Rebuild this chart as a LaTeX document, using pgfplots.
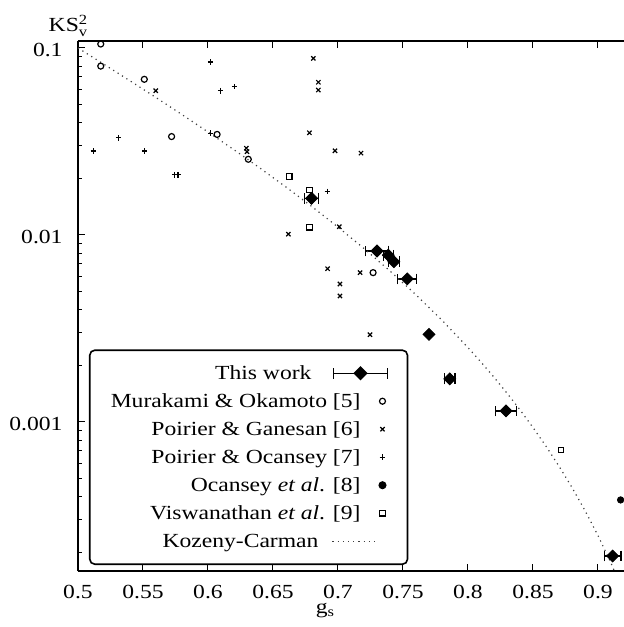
\documentclass[border=0pt]{standalone}
\usepackage{fontspec}
\setmainfont{Liberation Serif}[FakeStretch=1.18]
\usepackage{pgfplots}
\pgfplotsset{compat=1.18}
\usetikzlibrary{arrows.meta}
\newcommand{\chartfont}{\fontsize{10}{12}\selectfont}
\pgfplotsset{
  ptlegend/.style={legend image code/.code={%
    \path[draw=none,fill=none] (0pt,-3pt) rectangle (13pt,3pt);
    \draw[sharp corners,##1] plot coordinates {(9pt,0pt)};}},
  errlegend/.style={legend image code/.code={%
    \path[draw=none,fill=none] (0pt,-3pt) rectangle (13pt,3pt);
    \draw[overlay,sharp corners,line width=0.6pt] (-15.5pt,0pt) -- (11.5pt,0pt);
    \draw[overlay,sharp corners,line width=0.6pt] (-15.5pt,-2.7pt) -- (-15.5pt,2.7pt);
    \draw[overlay,sharp corners,line width=0.6pt] (11.5pt,-2.7pt) -- (11.5pt,2.7pt);
    \fill[overlay,sharp corners] plot[mark=square*, mark size=2.1pt, mark options={rotate=45,fill=black}] coordinates {(-2pt,0pt)};}},
  linelegend/.style={legend image code/.code={%
    \path[draw=none,fill=none] (0pt,-3pt) rectangle (13pt,3pt);
    \draw[overlay,sharp corners,##1] (-16pt,0pt) -- (6.5pt,0pt);}},
}
\pgfplotstableread{
x y ex
0.6797 0.0157 0.0058
0.7300 0.00821 0.0095
0.7387 0.00780 0.0043
0.7430 0.00720 0.0046
0.7533 0.00582 0.0077
0.7860 0.00170 0.0045
0.8292 0.001146 0.0087
0.9113 0.000192 0.0068
}\thiswork
\pgfplotstableread{
x y
0.7700 0.00294
}\thisworkb
\pgfplotstableread{
x y
0.5175 0.105
0.5175 0.080
0.551 0.068
0.572 0.0336
0.607 0.0345
0.631 0.0254
0.727 0.00629
}\murakami
\pgfplotstableread{
x y
0.5598 0.0591
0.6295 0.0291
0.6300 0.0279
0.681 0.088
0.6849 0.0656
0.6849 0.0596
0.678 0.0352
0.6977 0.0282
0.7177 0.0274
0.6618 0.0101
0.701 0.01107
0.692 0.0066
0.717 0.00629
0.7015 0.00547
0.7015 0.00472
0.7246 0.00293
}\ganesan
\pgfplotstableread{
x y
0.602 0.0842
0.6097 0.0591
0.6205 0.0621
0.5313 0.0331
0.5118 0.0281
0.5513 0.0281
0.5744 0.0210
0.5769 0.0210
0.602 0.0350
0.6918 0.0171
}\ocanseyP
\pgfplotstableread{
x y
0.9174 0.000383
}\ocansey
\pgfplotstableread{
x y
0.6625 0.0205
0.678 0.0174
0.678 0.0110
0.8715 0.000708
}\viswa
\pgfplotstableread{
x y
0.50 0.1
0.52 0.081799
0.54 0.066760
0.56 0.054327
0.58 0.044047
0.60 0.035556
0.62 0.028549
0.64 0.022781
0.66 0.018046
0.68 0.014173
0.70 0.011020
0.72 0.0084691
0.74 0.0064193
0.76 0.0047867
0.78 0.0035003
0.80 0.0025
0.81 0.0020908
0.82 0.0017347
0.83 0.0014263
0.84 0.0011610
0.85 0.00093426
0.86 0.00074202
0.87 0.00058052
0.88 0.00044628
0.89 0.00033607
0.90 0.00024691
0.91 0.00017607
0.92 0.00012098
}\kozeny
\begin{document}
\begin{tikzpicture}
\begin{axis}[
  scale only axis, width=273pt, height=265pt,
  xmin=0.5, xmax=0.92, ymode=log, ymin=1.596e-4, ymax=0.109,
  axis x line*=box, axis y line*=left,
  axis line style={line width=0.6pt},
  every tick/.style={black, line width=0.5pt},
  major tick length=3.5pt, minor tick length=2pt,
  xtick={0.5,0.55,0.6,0.65,0.7,0.75,0.8,0.85,0.9},
  xticklabels={0.5,0.55,0.6,0.65,0.7,0.75,0.8,0.85,0.9},
  ytick={0.001,0.01,0.1},
  yticklabels={0.001,0.01,0.1},
  minor ytick={0.0002,0.0003,0.0004,0.0005,0.0006,0.0007,0.0008,0.0009,0.002,0.003,0.004,0.005,0.006,0.007,0.008,0.009,0.02,0.03,0.04,0.05,0.06,0.07,0.08,0.09},
  /pgf/number format/assume math mode=true,
  tick label style={font=\chartfont},
  xticklabel style={yshift=-3.5pt},
  yticklabel style={xshift=-4.2pt, yshift=-1pt},
  xlabel={g$_{\mathrm{s}}$},
  xlabel style={font=\chartfont, at={(axis description cs:0.4524,0)}, anchor=base, yshift=-21pt},
  ylabel={KS$^{\mathrm{2}}_{\mathrm{v}}$},
  ylabel style={font=\chartfont, rotate=-90, at={(axis description cs:0.018,1)}, anchor=base, xshift=-10pt, yshift=4.5pt},
  legend cell align=right, legend plot pos=right,
  legend style={font=\chartfont, at={(rel axis cs:0.0201,0.0113)}, anchor=south west, draw=black, line width=0.8pt, rounded corners=2.5pt, inner xsep=8.5pt, inner ysep=4.5pt, row sep=0pt, nodes={text height=10pt, text depth=4pt, inner ysep=0pt}},
]
\addplot[only marks, mark=square*, mark size=2.1pt, mark options={rotate=45, fill=black, sharp corners}, errlegend,
  error bars/.cd, x dir=both, x explicit, error mark=none,
  error bar style={line width=0.6pt, sharp corners, solid, {Bar[width=5.4pt]}-{Bar[width=5.4pt]}}]
  table[x=x, y=y, x error=ex] {\thiswork};
\addlegendentry{This work\rule{24.5pt}{0pt}}
\addplot[only marks, mark=o, mark size=1.5pt, mark options={line width=0.6pt}, ptlegend] table {\murakami};
\addlegendentry{Murakami \& Okamoto [5]}
\addplot[only marks, mark=x, mark size=1.5pt, mark options={line width=0.6pt}, ptlegend] table {\ganesan};
\addlegendentry{Poirier \& Ganesan [6]}
\addplot[only marks, mark=+, mark size=1.4pt, mark options={line width=0.6pt}, ptlegend] table {\ocanseyP};
\addlegendentry{Poirier \& Ocansey [7]}
\addplot[only marks, mark=*, mark size=1.6pt, mark options={fill=black}, ptlegend] table {\ocansey};
\addlegendentry{Ocansey \textit{et al}. [8]}
\addplot[only marks, mark=square, mark size=1.4pt, mark options={line width=0.6pt, sharp corners}, ptlegend] table {\viswa};
\addlegendentry{Viswanathan \textit{et al}. [9]}
\addplot[black!75, line width=0.6pt, dotted, sharp corners, linelegend] table {\kozeny};
\addlegendentry{Kozeny-Carman\rule{21pt}{0pt}}
\addplot[forget plot, only marks, mark=square*, mark size=2.1pt, mark options={rotate=45, fill=black, sharp corners}] table {\thisworkb};
\end{axis}
\pgfresetboundingbox
\path[use as bounding box] (-39pt,-28pt) rectangle (273pt,285.5pt);
\end{tikzpicture}
\end{document}
